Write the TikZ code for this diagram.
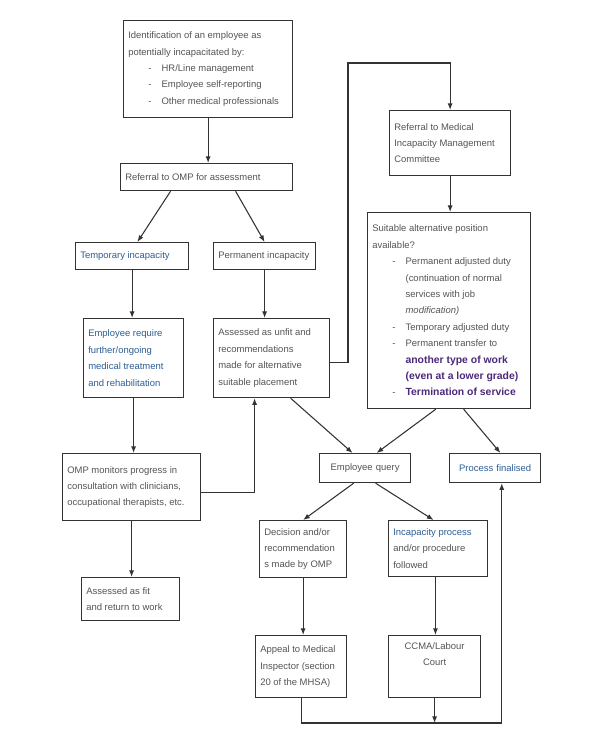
\documentclass[tikz,border=0pt]{standalone}
\usepackage{fontspec}
\setmainfont{Liberation Sans}
\usetikzlibrary{positioning, arrows.meta}
\definecolor{txtgray}{HTML}{555555}
\definecolor{txtblue}{HTML}{2e5f95}
\definecolor{emph}{HTML}{4b2a7b}
\definecolor{edge}{HTML}{333333}
\newcommand{\bul}[1]{\hspace*{15pt}\makebox[10pt][l]{-}#1}
\newcommand{\cont}[1]{\hspace*{25pt}#1}
\newcommand{\hil}[1]{\textcolor{emph}{\fontsize{7.8}{12.3}\selectfont\textbf{#1}}}

\begin{document}
\begin{tikzpicture}[x=0.75pt, y=-0.75pt,
  every node/.style={font=\fontsize{7.1}{12.3}\selectfont, text=txtgray},
  box/.style={rectangle, draw=edge, line width=0.9pt, fill=white,
              anchor=north west, inner xsep=3.5pt, inner ysep=2pt,
              align=flush left},
  arr/.style={-{Latex[length=5pt, width=3.8pt]}, edge, line width=0.8pt},
  link/.style={edge, line width=0.8pt}
]
\useasboundingbox (0,0) rectangle (602,746);

% left / centre column
\node[box, text width=119.75pt, minimum height=72.75pt] (ident) at (123,20)
  {Identification of an employee as\\ potentially incapacitated by:\\
   \bul{HR/Line management}\\ \bul{Employee self-reporting}\\
   \bul{Other medical professionals}};
\node[box, text width=122pt, minimum height=20.25pt] (refomp) at (120,163)
  {Referral to OMP for assessment};
\node[box, text width=77.75pt, minimum height=20.25pt, text=txtblue] (temp) at (75,242)
  {Temporary incapacity};
\node[box, text width=69.5pt, minimum height=20.25pt] (perm) at (213,242)
  {Permanent incapacity};
\node[box, text width=68pt, minimum height=59.25pt, text=txtblue] (empreq) at (83,318)
  {Employee require\\ further/ongoing\\ medical treatment\\ and rehabilitation};
\node[box, text width=80pt, minimum height=59.25pt] (unfit) at (213,318)
  {Assessed as unfit and\\ recommendations\\ made for alternative\\ suitable placement};
\node[box, text width=96.5pt, minimum height=50.25pt] (omp) at (62,453)
  {OMP monitors progress in\\ consultation with clinicians,\\ occupational therapists, etc.};
\node[box, text width=66.5pt, minimum height=32.25pt] (fit) at (81,577)
  {Assessed as fit\\ and return to work};

% right column
\node[box, text width=83.75pt, minimum height=48.75pt] (mic) at (389,110)
  {Referral to Medical\\ Incapacity Management\\ Committee};
\node[box, text width=115.25pt, minimum height=147pt] (suit) at (367,212)
  {Suitable alternative position\\ available?\\
   \bul{Permanent adjusted duty}\\ \cont{(continuation of normal}\\
   \cont{services with job}\\ \cont{\textit{modification)}}\\
   \bul{Temporary adjusted duty}\\ \bul{Permanent transfer to}\\
   \cont{\hil{another type of work}}\\ \cont{\hil{(even at a lower grade)}}\\
   \bul{\hil{Termination of service}}};

% lower part
\node[box, text width=61.25pt, minimum height=21.75pt, align=center] (query) at (319,453)
  {Employee query};
\node[box, text width=61.25pt, minimum height=21.75pt, align=center, text=txtblue] (final) at (449,453)
  {Process finalised};
\node[box, text width=58.25pt, minimum height=42.75pt] (decision) at (259,520)
  {Decision and/or\\ recommendation\\ s made by OMP};
\node[box, text width=67.25pt, minimum height=42pt] (incap) at (388,520)
  {\textcolor{txtblue}{Incapacity process}\\ and/or procedure\\ followed};
\node[box, text width=61.25pt, minimum height=46.5pt] (appeal) at (255,635)
  {Appeal to Medical\\ Inspector (section\\ 20 of the MHSA)};
\node[box, text width=62pt, inner ysep=5pt, text depth=31pt, align=center] (ccma) at (388,635)
  {CCMA/Labour\\ Court};

\coordinate (bend) at (348,63);
\coordinate (join) at (435,723);

\draw[arr] (ident.south) -- (ident.south |- refomp.north);
\draw[arr] ([xshift=-27pt]refomp.south) -- ([xshift=4pt]temp.north);
\draw[arr] ([xshift=21.75pt]refomp.south) -- (perm.north);
\draw[arr] (temp.south) -- (temp.south |- empreq.north);
\draw[arr] (perm.south) -- (perm.south |- unfit.north);
\draw[arr] (empreq.south) -- (empreq.south |- omp.north);
\draw[arr] (omp.south) -- (omp.south |- fit.north);
\draw[arr] ([yshift=-3pt]unfit.east) -| (bend) -| (mic.north);
\draw[arr] (mic.south) -- (mic.south |- suit.north);
\draw[arr] ([yshift=-4pt]omp.east) -| ([xshift=-12.75pt]unfit.south);
\draw[arr] ([xshift=14.25pt]unfit.south) -- ([xshift=-9.4pt]query.north);
\draw[arr] ([xshift=-10pt]suit.south) -- ([xshift=8.6pt]query.north);
\draw[arr] ([xshift=10.9pt]suit.south) -- ([xshift=4pt]final.north);
\draw[arr] ([xshift=-8.6pt]query.south) -- (decision.north);
\draw[arr] ([xshift=7.9pt]query.south) -- ([xshift=-3.4pt]incap.north);
\draw[arr] (decision.south) -- (decision.south |- appeal.north);
\draw[arr] ([xshift=-2pt]incap.south) -- ([xshift=-2pt]incap.south |- ccma.north);
\draw[link] (appeal.south) |- (join);
\draw[arr] (ccma.south) -- (ccma.south |- join);
\draw[arr] (join) -| ([xshift=5pt]final.south);
\end{tikzpicture}
\end{document}
